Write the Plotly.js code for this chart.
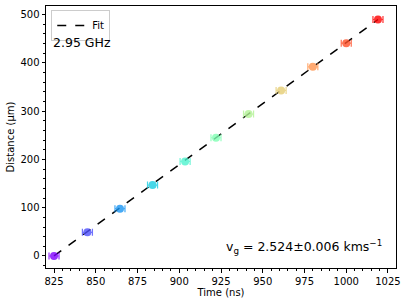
<!DOCTYPE html>
<html>
<head>
<meta charset="utf-8">
<script src="https://cdn.plot.ly/plotly-3.0.1.min.js"></script>
<style>html,body{margin:0;padding:0;background:#fff;}#chart{width:408px;height:305px;}</style>
</head>
<body>
<div id="chart"></div>
<script>
// Data
const times = [825, 845, 864.5, 884, 903.5, 922, 941.5, 961, 980, 1000, 1019];
const distances = [0, 49, 98, 147, 196, 245, 294, 343, 392, 441, 490];
const timeErr = [3, 3, 3, 3, 3, 3, 3, 3, 3, 3, 3];
const pointColors = ['#8000ff', '#4d4ffc', '#1a96f3', '#1acee3', '#4df3ce', '#80ffb4',
                     '#b3f396', '#e6ce74', '#ff964f', '#ff4f28', '#ff0000'];
const fitX = [825, 1019];
const fitY = [0, 490];
const xTicks = [825, 850, 875, 900, 925, 950, 975, 1000, 1025];
const yTicks = [0, 100, 200, 300, 400, 500];

const traces = [];
traces.push({
  x: fitX, y: fitY, type: 'scatter', mode: 'lines', name: 'Fit',
  line: {color: '#000', width: 1.5, dash: 'dash'}
});
for (let i = 0; i < times.length; i++) {
  traces.push({
    x: [times[i]], y: [distances[i]],
    type: 'scatter', mode: 'markers', showlegend: false,
    opacity: 0.8,
    marker: {color: pointColors[i], size: 8, line: {width: 0}},
    error_x: {type: 'data', array: [timeErr[i]], color: pointColors[i], thickness: 1.2, width: 3.5},
    hoverinfo: 'skip'
  });
}

const font = {family: 'DejaVu Sans', size: 10, color: '#000'};
const axisCommon = {
  showline: true, mirror: true, linecolor: '#000', linewidth: 1,
  ticks: 'outside', ticklen: 3.5, tickwidth: 1, tickcolor: '#000',
  showgrid: false, zeroline: false, tickfont: font
};

const layout = {
  width: 408, height: 305,
  margin: {l: 46, r: 12, t: 6, b: 37},
  paper_bgcolor: '#fff', plot_bgcolor: '#fff',
  font: font,
  xaxis: Object.assign({}, axisCommon, {
    range: [820.2, 1029.8], tickvals: xTicks, ticktext: xTicks.map(String),
    minor: {dtick: 5, tick0: 825, ticks: 'outside', ticklen: 2, tickcolor: '#000', showgrid: false},
    title: {text: 'Time (ns)', font: font, standoff: 3}
  }),
  yaxis: Object.assign({}, axisCommon, {
    range: [-24.9, 518], tickvals: yTicks, ticktext: yTicks.map(String),
    minor: {dtick: 20, tick0: 0, ticks: 'outside', ticklen: 2, tickcolor: '#000', showgrid: false},
    title: {text: 'Distance (µm)', font: font, standoff: 3}
  }),
  showlegend: true,
  legend: {
    x: 0.015, y: 0.985, xanchor: 'left', yanchor: 'top',
    bgcolor: '#fff', bordercolor: '#cccccc', borderwidth: 1,
    font: font, itemwidth: 30
  },
  annotations: [
    {xref: 'paper', yref: 'paper', x: 0.015, y: 0.862, xanchor: 'left', yanchor: 'middle',
     text: '2.95 GHz', showarrow: false, font: {family: 'DejaVu Sans', size: 12.5, color: '#000'}},
    {xref: 'paper', yref: 'paper', x: 0.965, y: 0.08, xanchor: 'right', yanchor: 'middle',
     text: 'v<sub>g</sub> = 2.524±0.006 kms<sup>−1</sup>', showarrow: false,
     font: {family: 'DejaVu Sans', size: 12.5, color: '#000'}}
  ]
};

Plotly.newPlot('chart', traces, layout, {displayModeBar: false, staticPlot: true});
</script>
</body>
</html>
